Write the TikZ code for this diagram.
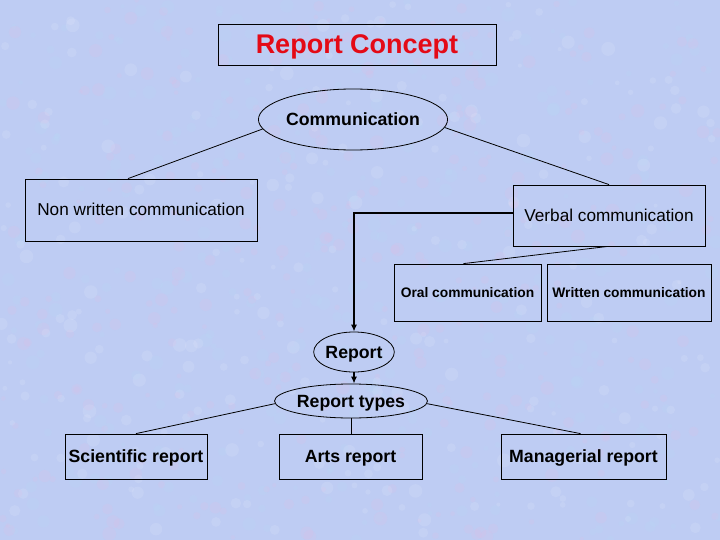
\documentclass[tikz,border=0pt]{standalone}
\usepackage{fontspec}
\setmainfont{Liberation Sans}
\usetikzlibrary{shapes.geometric,arrows.meta,calc}
\definecolor{bgblue}{RGB}{190,204,243}
\definecolor{titlered}{RGB}{228,10,22}
\tikzset{
  box/.style={draw=black,line width=0.8pt,inner sep=0pt,align=center,text depth=0pt},
  oval/.style={draw=black,line width=0.8pt,ellipse,inner sep=0pt,align=center,text depth=0pt},
  bigbold/.style={font=\fontsize{17.7}{20}\selectfont\bfseries,text height=12.2pt},
  regtxt/.style={font=\fontsize{17.2}{20}\selectfont,text height=11.8pt},
  smallbold/.style={font=\fontsize{13.8}{16}\selectfont\bfseries,text height=9.5pt},
  titletxt/.style={font=\fontsize{27}{30}\selectfont\bfseries,text height=18.8pt,text=titlered},
  link/.style={draw=black,line width=0.8pt},
  arrowlink/.style={draw=black,line width=1.3pt,-{Latex[length=7pt,width=6pt]}}
}
\begin{document}
\begin{tikzpicture}[x=1pt,y=-1pt]
\useasboundingbox (0,0) rectangle (720,540);
\begin{scope}
\clip (0,0) rectangle (720,540);
\fill[bgblue] (0,0) rectangle (720,540);
\pgfmathsetseed{7}
\foreach \i in {1,...,900}{
  \pgfmathsetmacro{\px}{rnd*720}
  \pgfmathsetmacro{\py}{rnd*540}
  \pgfmathsetmacro{\pr}{2+rnd*5}
  \pgfmathsetmacro{\pc}{rnd}
  \ifdim\pc pt<0.4pt
    \fill[magenta!30!white,opacity=0.10] (\px,\py) circle (\pr);
  \else\ifdim\pc pt<0.75pt
    \fill[cyan!30!white,opacity=0.10] (\px,\py) circle (\pr);
  \else
    \fill[white,opacity=0.10] (\px,\py) circle (\pr);
  \fi\fi
}
\end{scope}
\node[box,titletxt,minimum width=278pt,minimum height=41pt] (title) at (357,44.5) {Report Concept};
\node[oval,bigbold,minimum width=146pt,minimum height=61pt] (comm) at (353,119.5) {Communication};
\node[box,regtxt,minimum width=232pt,minimum height=62pt] (nw) at (141,210) {Non written communication};
\node[box,regtxt,minimum width=192pt,minimum height=61pt] (verbal) at (609,215.5) {Verbal communication};
\node[box,smallbold,minimum width=147pt,minimum height=57pt] (oral) at (467.5,292.5) {Oral communication};
\node[box,smallbold,minimum width=164pt,minimum height=57pt] (written) at (629,292.5) {Written communication};
\node[oval,bigbold,minimum width=80pt,minimum height=40pt] (report) at (354,352) {Report};
\node[oval,bigbold,minimum width=152pt,minimum height=34pt] (types) at (351,401) {Report types};
\node[box,bigbold,minimum width=142pt,minimum height=45pt] (sci) at (136,456.5) {Scientific report};
\node[box,bigbold,minimum width=143pt,minimum height=45pt] (arts) at (350.5,456.5) {Arts report};
\node[box,bigbold,minimum width=165pt,minimum height=45pt] (man) at (583.5,456.5) {Managerial report};
% connectors
\draw[link] (comm.186) -- ($(nw.north)+(-13,0)$);
\draw[link] (comm.355) -- (verbal.north);
\draw[link] ($(verbal.south)+(-1,0)$) -- ($(oral.north)+(-4,0)$);
\draw[link] ($(verbal.south)+(6,0)$) -- ($(verbal.south)+(6,0)$ |- written.north);
\draw[arrowlink] ($(verbal.west)+(0,-2.5)$) -| (report.north);
\draw[arrowlink] (report.south) -- (report.south |- types.north);
\draw[link] (types.182) -- (sci.north);
\draw[link] (types.358) -- ($(man.north)+(-3,0)$);
\draw[link] (types.south) -- (types.south |- arts.north);
\end{tikzpicture}
\end{document}
